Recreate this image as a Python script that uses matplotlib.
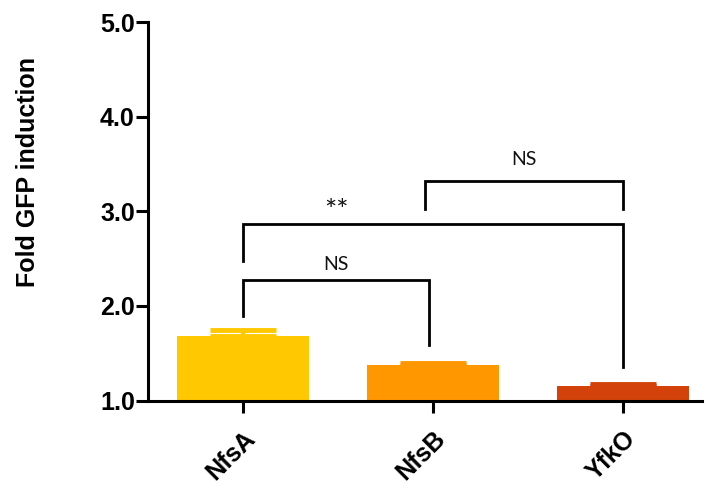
import matplotlib
matplotlib.use("Agg")
import matplotlib.pyplot as plt
from matplotlib.ticker import FormatStrFormatter

# ---- data ----
categories = ["NfsA", "NfsB", "YfkO"]
means = [1.68, 1.38, 1.15]
errors = [0.065, 0.02, 0.02]
colors = ["#FFC800", "#FF9700", "#D2420A"]
yticks = [1.0, 2.0, 3.0, 4.0, 5.0]

# significance comparisons: (left x, right x, bar height, left leg bottom, right leg bottom, label, label x, label y)
comparisons = [
    (0.0, 0.98, 2.27, 1.89, 1.59, "NS", 0.49, 2.44),
    (0.0, 2.0, 2.86, 2.47, 1.35, "**", 0.49, 2.99),
    (0.96, 2.0, 3.32, 3.02, 3.02, "NS", 1.48, 3.55),
]

plt.rcParams['font.family'] = ['Liberation Sans', 'DejaVu Sans']

fig = plt.figure(figsize=(7.07, 4.90), dpi=100)
ax = fig.add_axes([148/707, 1-400.5/490, (702-148)/707, (400.5-22)/490])

x = list(range(len(categories)))
ax.bar(x, means, width=0.69, color=colors, zorder=2)
for xi, m, e, c in zip(x, means, errors, colors):
    ax.errorbar(xi, m, yerr=[[0], [e]], fmt='none', ecolor=c,
                elinewidth=3, capsize=24, capthick=3.5, zorder=2)

for (x1, x2, yb, yl, yr, lab, lx, ly) in comparisons:
    ax.plot([x1, x1, x2, x2], [yl, yb, yb, yr], color='black', lw=2.0,
            solid_joinstyle='miter', clip_on=False, zorder=3)
    fs = 21 if lab == "**" else 14
    ax.text(lx, ly, lab, ha='center', va='center', fontsize=fs,
            family=['Lato', 'DejaVu Sans'], color='#111111')

ax.set_xlim(-0.5, 2.416)
ax.set_ylim(1.0, 5.0)
ax.set_yticks(yticks)
ax.yaxis.set_major_formatter(FormatStrFormatter('%.1f'))
ax.set_xticks(x)
ax.set_xticklabels(categories, rotation=45, ha='right', rotation_mode='anchor',
                   fontsize=18, fontweight='bold')
for lbl in ax.get_yticklabels():
    lbl.set_fontweight('bold')
    lbl.set_fontsize(18)

for s in ['top', 'right']:
    ax.spines[s].set_visible(False)
for s in ['left', 'bottom']:
    ax.spines[s].set_linewidth(2.2)
ax.tick_params(axis='y', length=8.5, width=2.2, pad=1)
ax.tick_params(axis='x', length=8.5, width=2.2, pad=10)

ax.set_ylabel("Fold GFP induction", fontsize=18, fontweight='bold')
ax.yaxis.set_label_coords(-0.195, 0.605)

fig.savefig("out.png", dpi=100)
